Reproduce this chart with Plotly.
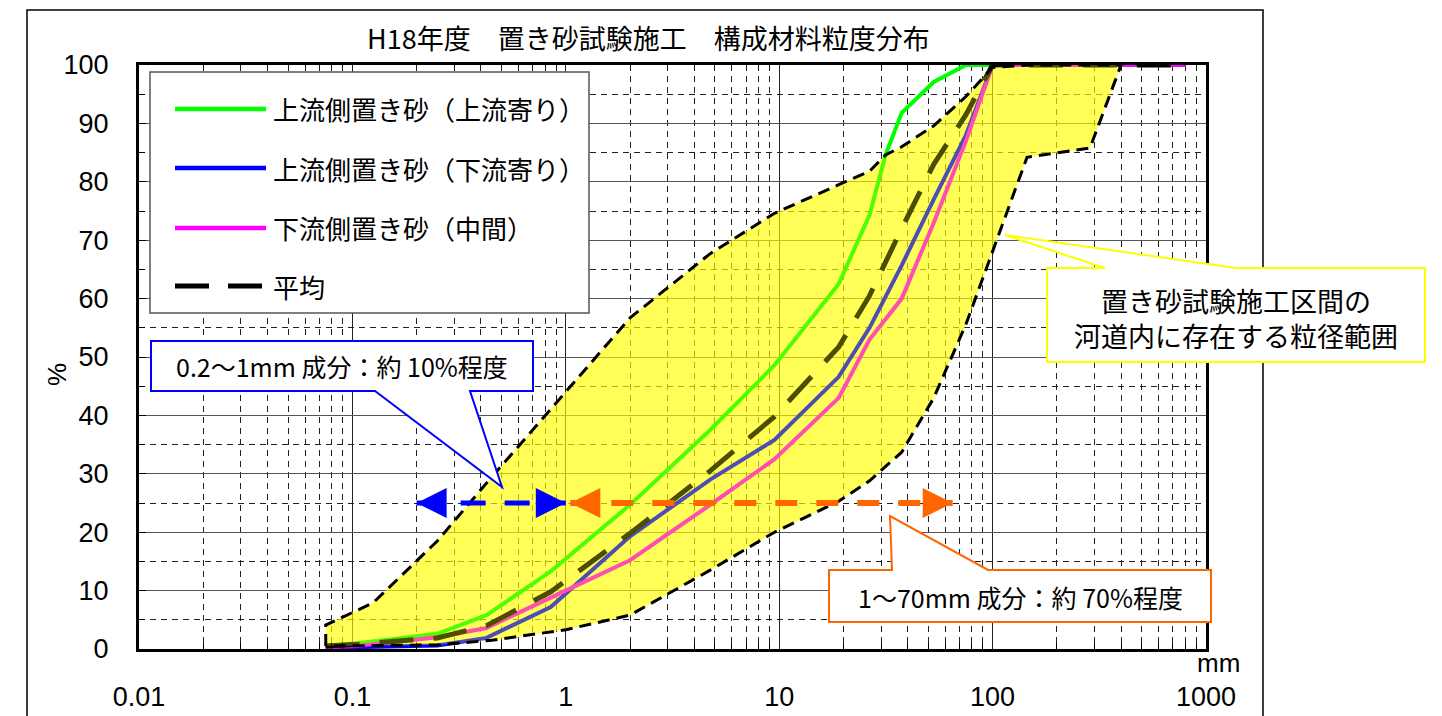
import plotly.graph_objects as go

# ---------------- data ----------------
GREEN_X = [0.075, 0.106, 0.25, 0.425, 0.85, 2, 4.75, 9.5, 19, 26.5, 31.5, 37.5, 53, 75, 100, 800]
GREEN_Y = [0.5, 1.0, 2.6, 5.8, 13.3, 24.7, 37.5, 48.6, 62.5, 74.3, 84.6, 91.8, 97.1, 100, 100, 100]

BLUE_X = [0.075, 0.106, 0.25, 0.425, 0.85, 2, 4.75, 9.5, 19, 26.5, 37.5, 53, 75, 100, 800]
BLUE_Y = [0.2, 0.3, 0.6, 1.9, 7.2, 19.3, 29.0, 35.8, 46.6, 55.0, 65.7, 77.0, 88.0, 100, 100]

PINK_X = [0.075, 0.106, 0.25, 0.425, 0.85, 2, 4.75, 9.5, 19, 26.5, 37.5, 53, 75, 100, 800]
PINK_Y = [0.3, 0.5, 2.0, 3.6, 8.8, 15.2, 24.7, 32.5, 43.0, 53.0, 60.0, 73.0, 87.0, 100, 100]

AVG_X = [0.075, 0.106, 0.25, 0.425, 0.85, 2, 4.75, 9.5, 19, 26.5, 37.5, 53, 75, 100, 800]
AVG_Y = [0.5, 0.8, 1.9, 4.0, 9.8, 19.8, 30.5, 39.8, 51.7, 60.5, 72.0, 83.0, 91.5, 100, 100]

ENV_UP_X = [0.075, 0.075, 0.125, 0.25, 0.425, 0.85, 2, 4.75, 9.5, 19, 26.5, 31.5, 37.5, 53, 75, 100, 150, 400]
ENV_UP_Y = [0.5, 4.1, 7.9, 18.5, 28.4, 41.0, 56.7, 67.7, 74.6, 79.5, 81.8, 84.6, 86.0, 89.6, 94.6, 99.6, 100, 100]
ENV_LO_X = [400, 286, 145, 100, 75, 53, 37.5, 26.5, 19, 9.5, 4.75, 2, 1, 0.45, 0.25, 0.075]
ENV_LO_Y = [100, 85.8, 84.2, 68.0, 55.6, 43.0, 33.7, 28.8, 25.3, 20.0, 13.5, 5.8, 3.3, 1.5, 0.7, 0.5]

BLUE_ARROW_X = [0.2, 1.0]
ORANGE_ARROW_X = [1.05, 65]
ARROW_Y = 25

SERIES_NAMES = ["上流側置き砂（上流寄り）", "上流側置き砂（下流寄り）", "下流側置き砂（中間）", "平均"]
X_TICKS = [0.01, 0.1, 1, 10, 100, 1000]
X_TICK_TEXT = ["0.01", "0.1", "1", "10", "100", "1000"]
Y_TICKS = list(range(0, 101, 10))

TITLE = "H18年度　置き砂試験施工　構成材料粒度分布"
NOTE_BLUE = "0.2～1mm 成分：約 10%程度"
NOTE_ORANGE = "1～70mm 成分：約 70%程度"
NOTE_YELLOW = "置き砂試験施工区間の<br>河道内に存在する粒径範囲"

# ---------------- layout geometry ----------------
W, H = 1442, 716
L, R, T, B = 139, 236, 65, 67
PW = W - L - R
PH = H - T - B


def px(x):
    return (x - L) / PW


def py(y):
    return (H - B - y) / PH


JP = "Noto Sans CJK JP"
NUM = "Liberation Sans"

fig = go.Figure()

env_x = ENV_UP_X + ENV_LO_X
env_y = ENV_UP_Y + ENV_LO_Y

# base yellow fill (below curves)
fig.add_trace(go.Scatter(x=env_x, y=env_y, mode="lines", fill="toself",
                         fillcolor="rgba(255,255,0,0.5)", line=dict(width=0),
                         hoverinfo="skip", showlegend=False))

curves = [
    (GREEN_X, GREEN_Y, "#00FF00", None, 4),
    (BLUE_X, BLUE_Y, "#0000FF", None, 4),
    (PINK_X, PINK_Y, "#FF00FF", None, 4),
    (AVG_X, AVG_Y, "#000000", "34px,20px", 5),
]
for (xs, ys, col, dash, w), name in zip(curves, SERIES_NAMES):
    fig.add_trace(go.Scatter(x=xs, y=ys, mode="lines", name=name,
                             line=dict(color=col, width=w, dash=dash),
                             showlegend=False))

# overlay yellow fill (tints the curves inside the range)
fig.add_trace(go.Scatter(x=env_x, y=env_y, mode="lines", fill="toself",
                         fillcolor="rgba(255,255,0,0.3)", line=dict(width=0),
                         hoverinfo="skip", showlegend=False))
# range outline
fig.add_trace(go.Scatter(x=env_x + [env_x[0]], y=env_y + [env_y[0]], mode="lines",
                         line=dict(color="black", width=3, dash="12px,7px"),
                         hoverinfo="skip", showlegend=False))

# arrows
for xs, col, dash, w in [(BLUE_ARROW_X, "#0000FF", "25px,19px", 5),
                         (ORANGE_ARROW_X, "#FF6600", "22px,19px", 6)]:
    fig.add_trace(go.Scatter(x=xs, y=[ARROW_Y, ARROW_Y], mode="lines",
                             line=dict(color=col, width=w, dash=dash),
                             hoverinfo="skip", showlegend=False))
    fig.add_trace(go.Scatter(x=xs, y=[ARROW_Y, ARROW_Y], mode="markers",
                             marker=dict(symbol=["arrow-left", "arrow-right"], size=30,
                                         color=col, line=dict(width=0)),
                             hoverinfo="skip", showlegend=False))

minor_x = [m * 10 ** e for e in range(-2, 3) for m in range(2, 10)]

fig.update_layout(
    width=W, height=H,
    margin=dict(l=L, r=R, t=T, b=B, autoexpand=False),
    paper_bgcolor="white", plot_bgcolor="white",
    showlegend=False,
    xaxis=dict(type="log", range=[-2, 3], tickvals=X_TICKS, ticktext=X_TICK_TEXT,
               tickfont=dict(family=NUM, size=27, color="black"),
               ticklabelstandoff=22, ticks="",
               showgrid=True, gridcolor="#222222", gridwidth=1,
               showline=True, linecolor="black", linewidth=3, mirror=True,
               zeroline=False,
               minor=dict(tickvals=minor_x, showgrid=True, gridcolor="#222222",
                          griddash="6px,5px", gridwidth=1, ticks="inside",
                          ticklen=6, tickcolor="black")),
    yaxis=dict(range=[0, 100], tickvals=Y_TICKS,
               tickfont=dict(family=NUM, size=27, color="black"),
               ticks="inside", ticklen=7, tickcolor="black",
               ticklabelstandoff=22,
               showgrid=True, gridcolor="#555555", gridwidth=1.2,
               showline=True, linecolor="black", linewidth=3, mirror=True,
               zeroline=False,
               minor=dict(dtick=5, showgrid=True, gridcolor="#222222",
                          griddash="6px,5px", gridwidth=1, ticks="inside",
                          ticklen=6, tickcolor="black")),
)

shapes = []
ann = []


def text(s, x, y, size, family=JP, xanchor="center", angle=0, align="center"):
    ann.append(dict(text=s, x=px(x), y=py(y), xref="paper", yref="paper",
                    xanchor=xanchor, yanchor="middle", showarrow=False,
                    textangle=angle, align=align,
                    font=dict(family=family, size=size, color="black")))


# outer chart frame
shapes.append(dict(type="rect", xref="paper", yref="paper",
                   x0=px(27), x1=px(1263), y0=py(740), y1=py(10),
                   line=dict(color="black", width=1.5), layer="below"))

text(TITLE, 648, 37, 27)
text("%", 57, 375, 26, family=NUM, angle=-90)
text("mm", 1218, 663, 26, family=NUM)

# legend box
shapes.append(dict(type="rect", xref="paper", yref="paper",
                   x0=px(150), x1=px(589), y0=py(313), y1=py(72),
                   line=dict(color="#555555", width=1.5), fillcolor="white", layer="above"))
leg_rows = [109, 168, 228, 286]
leg_styles = [("#00FF00", "solid"), ("#0000FF", "solid"), ("#FF00FF", "solid"), ("black", "34px,19px")]
for ry, (col, dash), name in zip(leg_rows, leg_styles, SERIES_NAMES):
    shapes.append(dict(type="line", xref="paper", yref="paper",
                       x0=px(175), x1=px(266), y0=py(ry), y1=py(ry),
                       line=dict(color=col, width=5 if dash != "solid" else 4.5, dash=dash),
                       layer="above"))
    text(name, 271, ry, 26, xanchor="left")


def path(points):
    s = "M {} {}".format(px(points[0][0]), py(points[0][1]))
    for (a, b) in points[1:]:
        s += " L {} {}".format(px(a), py(b))
    return s + " Z"


shapes.append(dict(type="path", xref="paper", yref="paper",
                   path=path([(151, 341), (533, 341), (533, 391), (470, 391),
                              (502, 487), (375, 391), (151, 391)]),
                   line=dict(color="#0000FF", width=2), fillcolor="white", layer="above"))
text(NOTE_BLUE, 342, 366, 25)

shapes.append(dict(type="path", xref="paper", yref="paper",
                   path=path([(829, 570), (892, 570), (890, 516), (988, 570),
                              (1211, 570), (1211, 622), (829, 622)]),
                   line=dict(color="#FF6600", width=2), fillcolor="white", layer="above"))
text(NOTE_ORANGE, 1020, 597, 25)

shapes.append(dict(type="path", xref="paper", yref="paper",
                   path=path([(1047, 268), (1105, 268), (1005, 235), (1236, 268),
                              (1425, 268), (1425, 362), (1047, 362)]),
                   line=dict(color="#FFFF00", width=2), fillcolor="white", layer="above"))
text(NOTE_YELLOW, 1236, 318, 27)

fig.update_layout(shapes=shapes, annotations=ann)
fig.write_html("out.html", config={"displayModeBar": False},
               post_script="document.body.style.margin='0';")
